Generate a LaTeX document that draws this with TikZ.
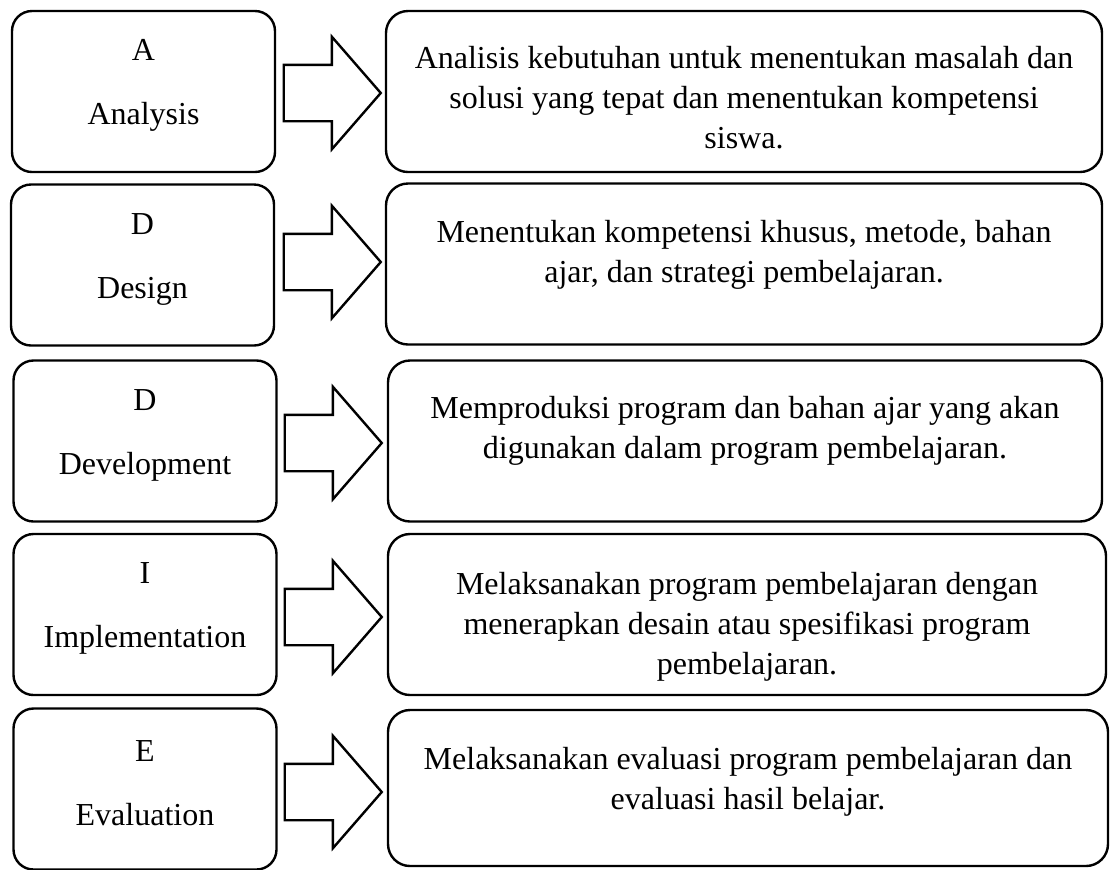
\documentclass[tikz,border=0pt]{standalone}
\usepackage{fontspec}
\setmainfont{Liberation Serif}
\usepackage{tikz}
\usetikzlibrary{shapes.arrows}

\begin{document}
\begin{tikzpicture}[
    x=0.5pt, y=-0.5pt,
    font=\fontsize{16}{20}\selectfont,
    phasebox/.style={draw, line width=1.2pt, rounded corners=10pt, minimum width=131.5pt, minimum height=80.5pt},
    desc/.style={draw, line width=1.2pt, rounded corners=11pt, minimum width=358pt, minimum height=80.5pt},
    lbl/.style={align=center, inner sep=0pt},
    bigarrow/.style={draw, line width=1.2pt, single arrow, single arrow tip angle=98, single arrow head extend=14pt, inner sep=0pt, text height=27pt, text depth=0pt, minimum height=48.5pt}
]
\useasboundingbox (0,0) rectangle (1111,869);

% phases
\node[phasebox] (analysis) at (143.5,91.5) {};
\node[phasebox] (design) at (142.5,265) {};
\node[phasebox] (develop) at (145,441) {};
\node[phasebox] (implement) at (145,614.5) {};
\node[phasebox] (evaluate) at (145,789) {};
\node[lbl, yshift=3pt] (analysisLbl) at (analysis) {A\\[12pt]Analysis};
\node[lbl, yshift=3pt] (designLbl) at (design) {D\\[12pt]Design};
\node[lbl, yshift=3pt] (developLbl) at (develop) {D\\[12pt]Development};
\node[lbl, yshift=3pt] (implementLbl) at (implement) {I\\[12pt]Implementation};
\node[lbl, yshift=3pt] (evaluateLbl) at (evaluate) {E\\[12pt]Evaluation};

% block arrows
\node[bigarrow] (arrA) at (320,93) {};
\node[bigarrow] (arrD1) at (320,262) {};
\node[bigarrow] (arrD2) at (321,443) {};
\node[bigarrow] (arrI) at (321,617) {};
\node[bigarrow] (arrE) at (321,792) {};

% descriptions
\node[desc] (analysisDesc) at (744,91.5) {};
\node[desc] (designDesc) at (744,264) {};
\node[desc, minimum width=357pt] (developDesc) at (745,441) {};
\node[desc, minimum width=359pt] (implementDesc) at (747,614.5) {};
\node[desc, minimum width=360pt, minimum height=78pt] (evaluateDesc) at (748,788) {};
\node[lbl, yshift=-3pt] (analysisTxt) at (analysisDesc) {Analisis kebutuhan untuk menentukan masalah dan\\solusi yang tepat dan menentukan kompetensi\\siswa.};
\node[lbl, yshift=4.5pt] (designTxt) at (designDesc) {Menentukan kompetensi khusus, metode, bahan\\ajar, dan strategi pembelajaran.};
\node[lbl, yshift=5pt] (developTxt) at (developDesc) {Memproduksi program dan bahan ajar yang akan\\digunakan dalam program pembelajaran.};
\node[lbl, yshift=-6pt] (implementTxt) at (implementDesc) {Melaksanakan program pembelajaran dengan\\menerapkan desain atau spesifikasi program\\pembelajaran.};
\node[lbl, yshift=3pt] (evaluateTxt) at (evaluateDesc) {Melaksanakan evaluasi program pembelajaran dan\\evaluasi hasil belajar.};
\end{tikzpicture}
\end{document}
